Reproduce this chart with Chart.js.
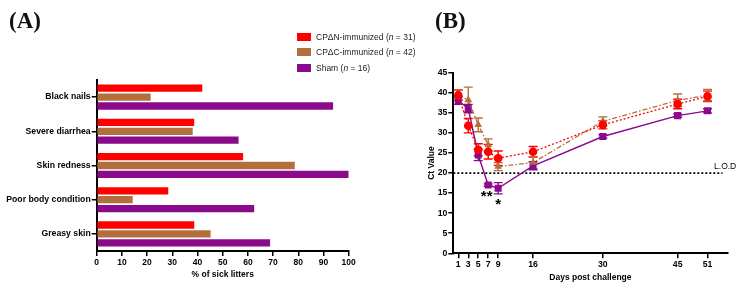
<!DOCTYPE html>
<html><head><meta charset="utf-8">
<script src="https://cdn.jsdelivr.net/npm/chart.js@4"></script>
<style>
html,body{margin:0;padding:0;background:#fff;}
#wrap{position:relative;width:740px;height:290px;overflow:hidden;background:#fff;}
.panel{position:absolute;font-family:'Liberation Serif','Times New Roman',serif;font-weight:bold;font-size:23px;line-height:1;color:#111;z-index:3;}
canvas{position:absolute;top:0;}
#cA{left:0;}
#cB{left:380px;}
.leg{position:absolute;left:297px;font-family:'Liberation Sans',Arial,sans-serif;font-size:8.5px;color:#222;line-height:10px;white-space:nowrap;z-index:3;}
.sw{display:inline-block;width:14px;height:8px;vertical-align:middle;margin-right:5px;position:relative;top:-1px;}
</style></head>
<body>
<div id="wrap">
  <div class="panel" style="left:9px;top:9px;">(A)</div>
  <div class="panel" style="left:435px;top:9px;">(B)</div>
  <canvas id="cA" width="380" height="290"></canvas>
  <canvas id="cB" width="360" height="290"></canvas>
  <div id="legend"></div>
</div>
<script>
// ---- Panel A data ----
const symptoms = ['Black nails', 'Severe diarrhea', 'Skin redness', 'Poor body condition', 'Greasy skin'];
const groupNames = ['CPΔN-immunized', 'CPΔC-immunized', 'Sham'];
const groupN = [31, 42, 16];
const sickCPdN = [41.9, 38.7, 58.1, 28.4, 38.7];
const sickCPdC = [21.4, 38.1, 78.6, 14.3, 45.2];
const sickSham = [93.8, 56.3, 100, 62.5, 68.8];
const pctMin = 0, pctMax = 100, pctStep = 10;

// ---- Panel B data ----
const days = [1, 3, 5, 7, 9, 16, 30, 45, 51];
const ctCPdN = [39.4, 31.8, 25.8, 25.3, 23.7, 25.3, 32.0, 37.2, 39.1];
const ctCPdNerr = [1.3, 1.8, 1.5, 1.8, 1.8, 1.3, 1.0, 1.2, 1.3];
const ctCPdC = [39.4, 38.2, 32.0, 27.0, 21.6, 22.6, 32.9, 38.1, 39.4];
const ctCPdCerr = [1.2, 3.2, 1.7, 1.5, 1.0, 1.5, 1.1, 1.6, 1.4];
const ctSham = [38.0, 36.1, 24.5, 17.0, 16.2, 21.8, 29.1, 34.3, 35.5];
const ctShamErr = [0.9, 1.0, 1.4, 0.3, 1.4, 1.0, 0.4, 0.4, 0.5];
const dayTicks = [1, 3, 5, 7, 9, 16, 30, 45, 51];
const ctMin = 0, ctMax = 45, ctStep = 5;
const lodValue = 20;
const lodLabel = 'L.O.D';
const sigDays = [7, 9];
const sigMarks = ['**', '*'];

const colors = ['#ff0000', '#b26f3c', '#8b0a8b'];
const SANS = "'Liberation Sans', Arial, sans-serif";

// Legend (HTML text)
const legTops = [32, 47, 63];
document.getElementById('legend').innerHTML = groupNames.map((g, i) =>
  `<div class="leg" style="top:${legTops[i]}px"><span class="sw" style="background:${colors[i]}"></span>${i < 2 ? g : 'Sham'} (<i>n</i> = ${groupN[i]})</div>`
).join('');

// ---- Chart A ----
new Chart(document.getElementById('cA'), {
  type: 'bar',
  data: {
    labels: symptoms,
    datasets: [sickCPdN, sickCPdC, sickSham].map((d, i) => ({
      label: groupNames[i], data: d, backgroundColor: colors[i], borderWidth: 0,
      categoryPercentage: 0.78, barPercentage: 0.82
    }))
  },
  options: {
    indexAxis: 'y', responsive: false, animation: false, devicePixelRatio: 1,
    layout: { padding: { left: 0, top: 80, right: 31.3, bottom: 0 } },
    plugins: { legend: { display: false }, tooltip: { enabled: false } },
    scales: {
      x: {
        min: pctMin, max: pctMax,
        afterFit: s => { s.height = 39; },
        grid: { drawOnChartArea: false, tickLength: 5, color: '#000', lineWidth: 1.5 },
        border: { color: '#000', width: 2 },
        ticks: { stepSize: pctStep, color: '#000', padding: 2, maxRotation: 0, font: { family: SANS, size: 8.5, weight: 'bold' } },
        title: { display: true, text: '% of sick litters', color: '#000', font: { family: SANS, size: 8.5, weight: 'bold' }, padding: { top: 0, bottom: 10 } }
      },
      y: {
        afterFit: s => { s.width = 96.7; },
        grid: { offset: false, drawOnChartArea: false, tickLength: 5, color: '#000', lineWidth: 1.5 },
        border: { color: '#000', width: 2 },
        ticks: { color: '#000', padding: 1, font: { family: SANS, size: 8.7, weight: 'bold' } }
      }
    }
  }
});

// ---- Chart B ----
const errs = [ctCPdNerr, ctCPdCerr, ctShamErr];
const errPlugin = {
  id: 'errbars',
  beforeDatasetsDraw(chart) {
    const ctx = chart.ctx, xs = chart.scales.x, ys = chart.scales.y;
    ctx.save();
    [ctCPdN, ctCPdC, ctSham].forEach((vals, k) => {
      ctx.strokeStyle = colors[k];
      ctx.lineWidth = 1.4;
      vals.forEach((v, i) => {
        const e = errs[k][i];
        const x = xs.getPixelForValue(days[i]);
        const y1 = ys.getPixelForValue(v + e), y2 = ys.getPixelForValue(v - e);
        ctx.beginPath();
        ctx.moveTo(x, y1); ctx.lineTo(x, y2);
        ctx.moveTo(x - 4.5, y1); ctx.lineTo(x + 4.5, y1);
        ctx.moveTo(x - 4.5, y2); ctx.lineTo(x + 4.5, y2);
        ctx.stroke();
      });
    });
    ctx.restore();
  },
  afterDatasetsDraw(chart) {
    const ctx = chart.ctx, xs = chart.scales.x, ys = chart.scales.y;
    ctx.save();
    ctx.fillStyle = '#000';
    ctx.font = `8.5px ${SANS}`;
    ctx.textAlign = 'left';
    ctx.textBaseline = 'bottom';
    ctx.fillText(lodLabel, xs.getPixelForValue(52.3), ys.getPixelForValue(lodValue) - 2);
    ctx.font = `bold 15px ${SANS}`;
    ctx.textAlign = 'center';
    ctx.textBaseline = 'top';
    sigDays.forEach((d, j) => {
      const i = days.indexOf(d);
      const x = xs.getPixelForValue(d) + (j === 0 ? -1.5 : 0);
      const y = ys.getPixelForValue(ctSham[i] - ctShamErr[i]) + 3;
      ctx.fillText(sigMarks[j], x, y);
    });
    ctx.restore();
  }
};

const mk = (vals) => days.map((d, i) => ({ x: d, y: vals[i] }));
new Chart(document.getElementById('cB'), {
  type: 'line',
  data: {
    datasets: [
      { label: groupNames[0], data: mk(ctCPdN), borderColor: colors[0], backgroundColor: colors[0], borderWidth: 1.3, borderDash: [2, 2],
        pointStyle: 'circle', pointRadius: 4.3, pointBorderWidth: 0 },
      { label: groupNames[1], data: mk(ctCPdC), borderColor: colors[1], backgroundColor: colors[1], borderWidth: 1.3, borderDash: [5, 2, 1.5, 2],
        pointStyle: 'triangle', pointRadius: 4.5, pointBorderWidth: 0 },
      { label: 'Sham', data: mk(ctSham), borderColor: colors[2], backgroundColor: colors[2], borderWidth: 1.4,
        pointStyle: 'rect', pointRadius: 5, pointBorderWidth: 0 },
      { label: 'LOD', data: [{ x: ctMin, y: lodValue }, { x: 54, y: lodValue }], borderColor: '#000', borderWidth: 1.8, borderDash: [2, 2], pointRadius: 0 }
    ]
  },
  options: {
    responsive: false, animation: false, devicePixelRatio: 1,
    layout: { padding: { left: 0, top: 72.7, right: 12.5, bottom: 0 } },
    plugins: { legend: { display: false }, tooltip: { enabled: false } },
    scales: {
      x: {
        type: 'linear', min: 0, max: 55,
        afterBuildTicks: s => { s.ticks = dayTicks.map(v => ({ value: v })); },
        afterFit: s => { s.height = 36.7; },
        grid: { drawOnChartArea: false, tickLength: 5, color: '#000', lineWidth: 1.5 },
        border: { color: '#000', width: 2 },
        ticks: { autoSkip: false, maxRotation: 0, color: '#000', padding: 1, font: { family: SANS, size: 8.7, weight: 'bold' } },
        title: { display: true, text: 'Days post challenge', color: '#000', font: { family: SANS, size: 8.5, weight: 'bold' }, padding: { top: 0, bottom: 7 } }
      },
      y: {
        min: ctMin, max: ctMax,
        afterFit: s => { s.width = 73.3; },
        grid: { drawOnChartArea: false, tickLength: 5, color: '#000', lineWidth: 1.5 },
        border: { color: '#000', width: 2 },
        ticks: { stepSize: ctStep, color: '#000', padding: 1, font: { family: SANS, size: 8.7, weight: 'bold' } },
        title: { display: true, text: 'Ct Value', color: '#000', font: { family: SANS, size: 8.5, weight: 'bold' }, padding: { top: 47, bottom: 0 } }
      }
    }
  },
  plugins: [errPlugin]
});
</script>
</body></html>
